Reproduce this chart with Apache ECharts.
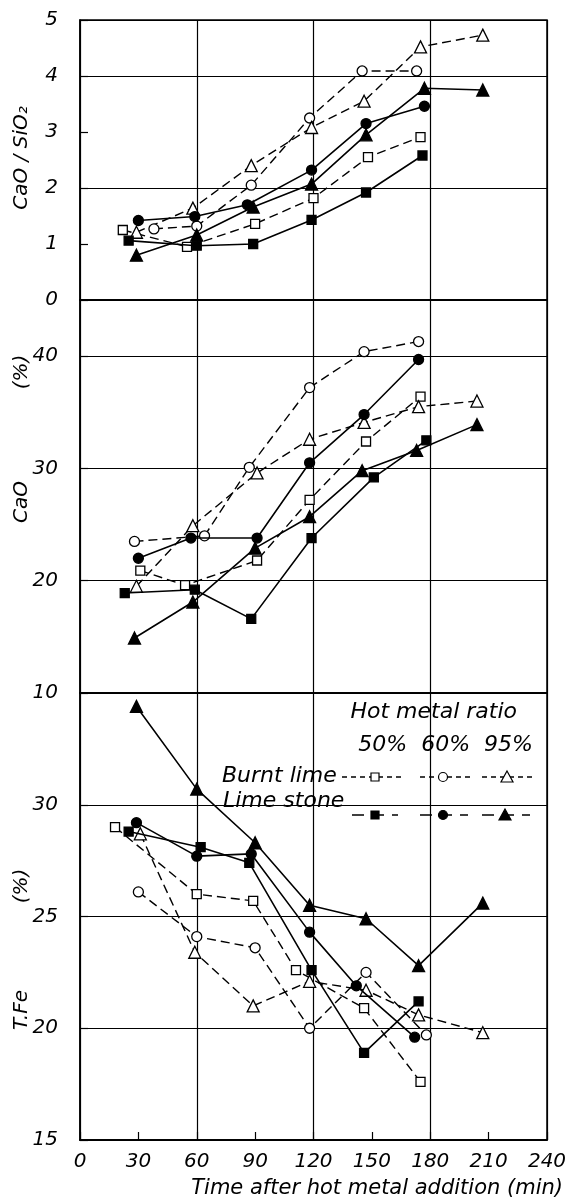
<!DOCTYPE html>
<html>
<head>
<meta charset="utf-8">
<script src="https://cdn.jsdelivr.net/npm/echarts@6/dist/echarts.min.js"></script>
<style>
html,body{margin:0;padding:0;background:#fff;}
#chart{width:565px;height:1200px;}
</style>
</head>
<body>
<div id="chart"></div>
<script>
// ---------- DATA ----------
const xTicks = [0, 30, 60, 90, 120, 150, 180, 210, 240];
const seriesNames = ['Burnt lime 50%', 'Burnt lime 60%', 'Burnt lime 95%', 'Lime stone 50%', 'Lime stone 60%', 'Lime stone 95%'];

// CaO / SiO2
const ratio_bl50_t = [22, 55, 90, 120, 148, 175];
const ratio_bl50_v = [1.25, 0.95, 1.36, 1.82, 2.55, 2.91];
const ratio_bl60_t = [38, 60, 88, 118, 145, 173];
const ratio_bl60_v = [1.27, 1.32, 2.05, 3.25, 4.09, 4.09];
const ratio_bl95_t = [29, 58, 88, 119, 146, 175, 207];
const ratio_bl95_v = [1.21, 1.64, 2.40, 3.08, 3.55, 4.52, 4.73];
const ratio_ls50_t = [25, 60, 89, 119, 147, 176];
const ratio_ls50_v = [1.06, 0.97, 1.00, 1.43, 1.92, 2.58];
const ratio_ls60_t = [30, 59, 86, 119, 147, 177];
const ratio_ls60_v = [1.42, 1.49, 1.70, 2.32, 3.15, 3.46];
const ratio_ls95_t = [29, 60, 89, 119, 147, 177, 207];
const ratio_ls95_v = [0.80, 1.16, 1.66, 2.07, 2.95, 3.78, 3.75];

// CaO (%)
const cao_bl50_t = [31, 54, 91, 118, 147, 175];
const cao_bl50_v = [20.9, 19.6, 21.8, 27.2, 32.4, 36.4];
const cao_bl60_t = [28, 64, 87, 118, 146, 174];
const cao_bl60_v = [23.5, 24.0, 30.1, 37.2, 40.4, 41.3];
const cao_bl95_t = [29, 58, 91, 118, 146, 174, 204];
const cao_bl95_v = [19.5, 24.9, 29.6, 32.6, 34.1, 35.5, 36.0];
const cao_ls50_t = [23, 59, 88, 119, 151, 178];
const cao_ls50_v = [18.9, 19.2, 16.6, 23.8, 29.2, 32.5];
const cao_ls60_t = [30, 57, 91, 118, 146, 174];
const cao_ls60_v = [22.0, 23.8, 23.8, 30.5, 34.8, 39.7];
const cao_ls95_t = [28, 58, 90, 118, 145, 173, 204];
const cao_ls95_v = [14.9, 18.1, 22.9, 25.7, 29.8, 31.6, 33.9];

// T.Fe (%)
const tfe_bl50_t = [18, 60, 89, 111, 146, 175];
const tfe_bl50_v = [29.0, 26.0, 25.7, 22.6, 20.9, 17.6];
const tfe_bl60_t = [30, 60, 90, 118, 147, 178];
const tfe_bl60_v = [26.1, 24.1, 23.6, 20.0, 22.5, 19.7];
const tfe_bl95_t = [31, 59, 89, 118, 147, 174, 207];
const tfe_bl95_v = [28.7, 23.4, 21.0, 22.1, 21.7, 20.6, 19.8];
const tfe_ls50_t = [25, 62, 87, 119, 146, 174];
const tfe_ls50_v = [28.8, 28.1, 27.4, 22.6, 18.9, 21.2];
const tfe_ls60_t = [29, 60, 88, 118, 142, 172];
const tfe_ls60_v = [29.2, 27.7, 27.8, 24.3, 21.9, 19.6];
const tfe_ls95_t = [29, 60, 90, 118, 147, 174, 207];
const tfe_ls95_v = [34.4, 30.7, 28.3, 25.5, 24.9, 22.8, 25.6];

// ---------- STYLE ----------
const FONT = 'DejaVu Sans';
const zip = (a, b) => a.map((t, i) => [t, b[i]]);
const styles = [
  {symbol: 'rect', size: 9, fill: '#fff', dash: true},
  {symbol: 'circle', size: 10, fill: '#fff', dash: true},
  {symbol: 'triangle', size: 12, fill: '#fff', dash: true},
  {symbol: 'rect', size: 9, fill: '#000', dash: false},
  {symbol: 'circle', size: 10, fill: '#000', dash: false},
  {symbol: 'triangle', size: 12, fill: '#000', dash: false}
];
function mk(name, st, t, v, xi, yi) {
  return {
    name: name, type: 'line', xAxisIndex: xi, yAxisIndex: yi,
    data: zip(t, v), symbol: st.symbol, symbolSize: st.size,
    showAllSymbol: true, animation: false, z: st.dash ? 3 : 4,
    lineStyle: {color: '#000', width: st.dash ? 1.4 : 1.6, type: st.dash ? [9, 5] : 'solid'},
    itemStyle: {color: st.fill, borderColor: '#000', borderWidth: 1.3}
  };
}
const panels = [
  {xi: 0, yi: 0, sets: [[ratio_bl50_t, ratio_bl50_v], [ratio_bl60_t, ratio_bl60_v], [ratio_bl95_t, ratio_bl95_v], [ratio_ls50_t, ratio_ls50_v], [ratio_ls60_t, ratio_ls60_v], [ratio_ls95_t, ratio_ls95_v]]},
  {xi: 1, yi: 2, sets: [[cao_bl50_t, cao_bl50_v], [cao_bl60_t, cao_bl60_v], [cao_bl95_t, cao_bl95_v], [cao_ls50_t, cao_ls50_v], [cao_ls60_t, cao_ls60_v], [cao_ls95_t, cao_ls95_v]]},
  {xi: 2, yi: 3, sets: [[tfe_bl50_t, tfe_bl50_v], [tfe_bl60_t, tfe_bl60_v], [tfe_bl95_t, tfe_bl95_v], [tfe_ls50_t, tfe_ls50_v], [tfe_ls60_t, tfe_ls60_v], [tfe_ls95_t, tfe_ls95_v]]}
];
const series = [];
panels.forEach(p => p.sets.forEach((s, i) => series.push(mk(seriesNames[i], styles[i], s[0], s[1], p.xi, p.yi))));

const LEFT = 80, RIGHT = 18;
const gridBox = (top, h) => ({left: LEFT, right: RIGHT, top: top, height: h, show: true, borderColor: '#000', borderWidth: 1.5,
  backgroundColor: 'transparent', containLabel: false, outerBoundsMode: 'none'});
const axisLine = {show: true, lineStyle: {color: '#000', width: 1.5}};
const labelStyle = {color: '#000', fontFamily: FONT, fontStyle: 'italic', fontSize: 20};
const gridX = gi => ({type: 'value', gridIndex: gi, min: 0, max: 240, interval: 60, position: 'bottom',
  axisLine: axisLine, axisTick: {show: false}, axisLabel: {show: false},
  splitLine: {show: true, lineStyle: {color: '#000', width: 1.2}}});

const option = {
  animation: false,
  backgroundColor: '#fff',
  grid: [gridBox(20, 280), gridBox(300, 393), gridBox(693, 447)],
  xAxis: [
    gridX(0), gridX(1), gridX(2),
    {type: 'value', gridIndex: 2, min: xTicks[0], max: xTicks[xTicks.length - 1], interval: 30, position: 'bottom',
      axisLine: axisLine, axisTick: {show: true, inside: true, length: 8, lineStyle: {color: '#000', width: 1.2}},
      axisLabel: Object.assign({margin: 12}, labelStyle), splitLine: {show: false}}
  ],
  yAxis: [
    {type: 'value', gridIndex: 0, min: 0, max: 5, interval: 1, axisLine: axisLine,
      axisTick: {show: true, inside: true, length: 8, lineStyle: {color: '#000', width: 1.2}},
      axisLabel: Object.assign({margin: 22}, labelStyle), splitLine: {show: false}},
    {type: 'value', gridIndex: 0, min: 0, max: 5, interval: 2, position: 'left', axisLine: {show: false},
      axisTick: {show: false}, axisLabel: {show: false},
      splitLine: {show: true, lineStyle: {color: '#000', width: 1.2}}},
    {type: 'value', gridIndex: 1, min: 10, max: 45, interval: 10, axisLine: axisLine,
      axisTick: {show: true, inside: true, length: 8, lineStyle: {color: '#000', width: 1.2}},
      axisLabel: Object.assign({margin: 22, showMaxLabel: false}, labelStyle),
      splitLine: {show: true, lineStyle: {color: '#000', width: 1.2}}},
    {type: 'value', gridIndex: 2, min: 15, max: 35, interval: 5, axisLine: axisLine,
      axisTick: {show: true, inside: true, length: 8, lineStyle: {color: '#000', width: 1.2}},
      axisLabel: Object.assign({margin: 22, showMaxLabel: false}, labelStyle),
      splitLine: {show: true, lineStyle: {color: '#000', width: 1.2}}}
  ],
  series: series
};

// ---------- TEXT / LEGEND GRAPHICS ----------
const txt = (x, y, s, opt) => Object.assign({type: 'text', x: x, y: y, z: 10,
  style: Object.assign({text: s, fill: '#000', font: 'italic 21px "' + FONT + '"', align: 'left', verticalAlign: 'middle'}, opt || {})});
const vtxt = (x, y, s) => ({type: 'text', x: x, y: y, rotation: Math.PI / 2, z: 10,
  style: {text: s, fill: '#000', font: 'italic 20px "' + FONT + '"', align: 'center', verticalAlign: 'middle'}});
const dashLine = (x1, x2, y, dash) => ({type: 'line', z: 10, shape: {x1: x1, y1: y, x2: x2, y2: y},
  style: {stroke: '#000', lineWidth: 1.4, lineDash: dash}});
const sq = (cx, cy, fill) => ({type: 'rect', z: 11, shape: {x: cx - 4, y: cy - 4, width: 8, height: 8}, style: {fill: fill, stroke: '#000', lineWidth: 1.2}});
const ci = (cx, cy, fill) => ({type: 'circle', z: 11, shape: {cx: cx, cy: cy, r: 4.5}, style: {fill: fill, stroke: '#000', lineWidth: 1.2}});
const tr = (cx, cy, fill) => ({type: 'polygon', z: 11, shape: {points: [[cx, cy - 6], [cx + 6, cy + 5], [cx - 6, cy + 5]]}, style: {fill: fill, stroke: '#000', lineWidth: 1.2}});

option.graphic = [
  vtxt(22, 158, 'CaO / SiO₂'),
  vtxt(22, 372, '(%)'),
  vtxt(22, 502, 'CaO'),
  vtxt(22, 886, '(%)'),
  vtxt(22, 1010, 'T.Fe'),
  txt(563, 1189, 'Time after hot metal addition (min)', {align: 'right'}),
  txt(517, 712, 'Hot metal ratio', {align: 'right', font: 'italic 22px "' + FONT + '"'}),
  txt(533, 745, '50%  60%  95%', {align: 'right', font: 'italic 22px "' + FONT + '"'}),
  txt(222, 776, 'Burnt lime', {font: 'italic 22px "' + FONT + '"'}),
  txt(223, 801, 'Lime stone', {font: 'italic 22px "' + FONT + '"'}),
  dashLine(342, 405, 777, [5, 4]), sq(375, 777, '#fff'),
  dashLine(420, 470, 777, [5, 4]), ci(443, 777, '#fff'),
  dashLine(482, 535, 777, [5, 4]), tr(507, 777, '#fff'),
  dashLine(352, 398, 815, [12, 8]), sq(375, 815, '#000'),
  dashLine(420, 468, 815, [12, 8]), ci(443, 815, '#000'),
  dashLine(482, 530, 815, [12, 8]), tr(505, 815, '#000')
];

const chart = echarts.init(document.getElementById('chart'), null, {renderer: 'canvas'});
chart.setOption(option);
</script>
</body>
</html>
